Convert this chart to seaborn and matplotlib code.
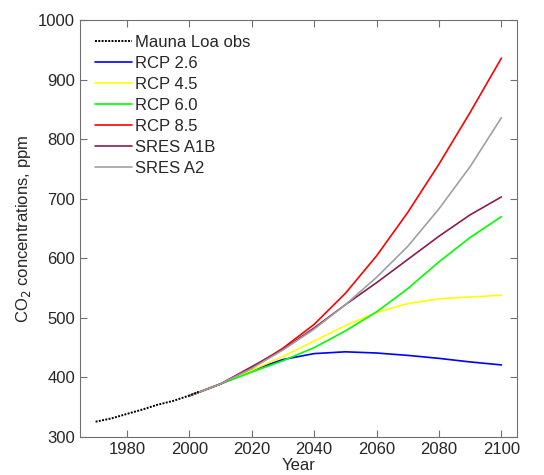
import matplotlib
matplotlib.use("Agg")
import matplotlib.pyplot as plt
import seaborn as sns
import pandas as pd

obs_years = [1970, 1975, 1980, 1985, 1990, 1995, 2000, 2003]
obs_vals = [325.7, 331.1, 338.7, 346.1, 354.4, 360.8, 369.6, 375.8]

years = [2000, 2010, 2020, 2030, 2040, 2050, 2060, 2070, 2080, 2090, 2100]
rcp26 = [369, 389, 412, 430, 440, 443, 441, 437, 432, 426, 421]
rcp45 = [369, 389, 412, 435, 461, 487, 509, 524, 532, 535, 538]
rcp60 = [369, 389, 409, 428, 450, 478, 510, 549, 594, 635, 670]
rcp85 = [369, 389, 416, 449, 489, 541, 604, 677, 758, 845, 936]
a1b = [369, 389, 418, 447, 483, 522, 559, 598, 637, 673, 703]
a2 = [369, 389, 415, 446, 481, 522, 568, 620, 683, 754, 836]

series = [
    ("RCP 2.6", rcp26, "#0000ff"),
    ("RCP 4.5", rcp45, "#ffff00"),
    ("RCP 6.0", rcp60, "#00ff00"),
    ("RCP 8.5", rcp85, "#ff0000"),
    ("SRES A1B", a1b, "#8b1c4f"),
    ("SRES A2", a2, "#a0a0a0"),
]

sns.set_style("ticks")
plt.rcParams['font.family'] = ['Liberation Sans', 'DejaVu Sans']

fig = plt.figure(figsize=(5.44, 4.75), dpi=100)
ax = fig.add_axes([80/544, 1-437/475, 437/544, 417/475])

for name, vals, col in series:
    sns.lineplot(x=years, y=vals, ax=ax, color=col, linewidth=1.2, label=name)
sns.lineplot(x=obs_years, y=obs_vals, ax=ax, color="black", linestyle=(0, (1.0, 0.7)),
             linewidth=1.4, label="Mauna Loa obs")

handles, labels = ax.get_legend_handles_labels()
order = [len(handles) - 1] + list(range(len(handles) - 1))
handles = [handles[i] for i in order]
labels = [labels[i] for i in order]

ax.set_xlim(1965, 2105)
ax.set_ylim(300, 1000)
ax.set_xticks([1980, 2000, 2020, 2040, 2060, 2080, 2100])
ax.set_yticks(range(300, 1001, 100))
ax.tick_params(direction="in", top=True, right=True, labelsize=12, length=5, color="#707070")
for s in ax.spines.values():
    s.set_visible(True)
    s.set_color("#707070")
ax.set_xlabel("Year", fontsize=12, labelpad=1)
ax.set_ylabel("CO$_2$ concentrations, ppm", fontsize=12)
ax.legend(handles, labels, loc="upper left", frameon=False, fontsize=12, handlelength=2.2,
          labelspacing=0.36, borderaxespad=0.5, handletextpad=0.2)
fig.savefig("out.png", dpi=100)
